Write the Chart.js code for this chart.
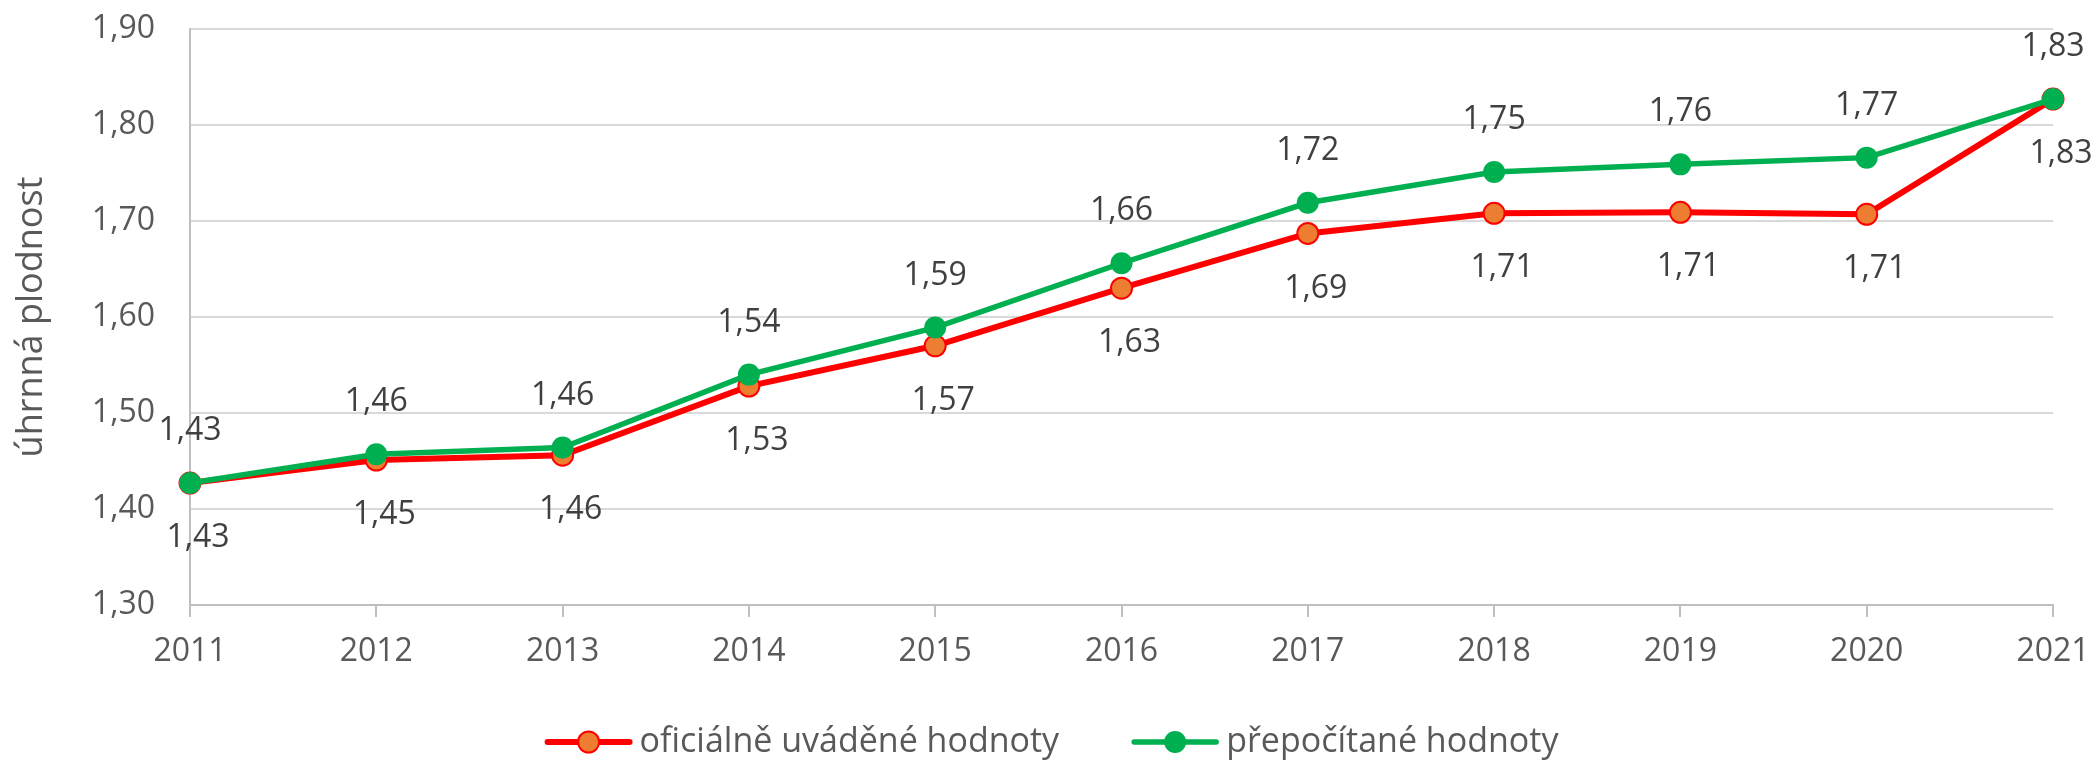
<!DOCTYPE html>
<html>
<head>
<meta charset="utf-8">
<script src="https://cdn.jsdelivr.net/npm/chart.js@4.4.1/dist/chart.umd.min.js"></script>
<style>
  html, body { margin: 0; padding: 0; background: #ffffff; }
  #wrap { width: 2099px; height: 761px; position: relative; }
</style>
</head>
<body>
<div id="wrap"><canvas id="c" width="2099" height="761"></canvas></div>
<script>
// ---- data ----
const years = ['2011','2012','2013','2014','2015','2016','2017','2018','2019','2020','2021'];
const officialValues = [1.427, 1.451, 1.456, 1.528, 1.570, 1.630, 1.687, 1.708, 1.709, 1.707, 1.827];
const recalculatedValues = [1.427, 1.457, 1.464, 1.540, 1.589, 1.656, 1.719, 1.751, 1.759, 1.766, 1.827];
const seriesNames = ['oficiálně uváděné hodnoty', 'přepočítané hodnoty'];
const yAxisTitle = 'úhrnná plodnost';
const yMin = 1.30, yMax = 1.90, yStep = 0.10;

const FONT = '"Open Sans", "Noto Sans", sans-serif';
const fmt = v => Number(v).toFixed(2).replace('.', ',');

// value labels drawn at each point position taken from the chart's elements
const valueLabels = {
  id: 'valueLabels',
  afterDatasetsDraw(chart) {
    const ctx = chart.ctx;
    ctx.save();
    ctx.font = '32px ' + FONT;
    ctx.fillStyle = '#404040';
    ctx.textAlign = 'center';
    ctx.textBaseline = 'middle';
    chart.data.datasets.forEach((ds, i) => {
      const meta = chart.getDatasetMeta(i);
      meta.data.forEach((pt, j) => {
        ctx.fillText(fmt(ds.data[j]), pt.x + ds.labelDx, pt.y + ds.labelDy);
      });
    });
    ctx.restore();
  }
};

// legend: line + marker sample followed by text
const lineLegend = {
  id: 'lineLegend',
  afterDraw(chart) {
    const ctx = chart.ctx;
    ctx.save();
    ctx.font = '34px ' + FONT;
    const sampleLen = 88, gapText = 7, gapItem = 72;
    const items = chart.data.datasets.map(ds => ({ds, w: ctx.measureText(ds.label).width}));
    let total = 0;
    items.forEach((it, k) => { total += sampleLen + gapText + it.w + (k < items.length - 1 ? gapItem : 0); });
    let x = chart.width / 2 + 2 - total / 2;
    const y = 742;
    items.forEach(it => {
      const ds = it.ds;
      ctx.strokeStyle = ds.borderColor;
      ctx.lineWidth = ds.borderWidth;
      ctx.lineCap = 'round';
      ctx.beginPath(); ctx.moveTo(x + 3, y); ctx.lineTo(x + sampleLen - 3, y); ctx.stroke();
      ctx.beginPath();
      ctx.arc(x + sampleLen / 2, y, ds.pointRadius, 0, Math.PI * 2);
      ctx.fillStyle = ds.pointBackgroundColor; ctx.fill();
      if (ds.pointBorderWidth > 0) { ctx.lineWidth = ds.pointBorderWidth; ctx.strokeStyle = ds.pointBorderColor; ctx.stroke(); }
      ctx.fillStyle = '#595959';
      ctx.textAlign = 'left';
      ctx.textBaseline = 'middle';
      ctx.fillText(ds.label, x + sampleLen + gapText, y);
      x += sampleLen + gapText + it.w + gapItem;
    });
    ctx.restore();
  }
};

new Chart(document.getElementById('c'), {
  type: 'line',
  data: {
    labels: years,
    datasets: [
      {
        label: seriesNames[0],
        data: officialValues,
        borderColor: '#FF0000',
        borderWidth: 6,
        pointRadius: 10.5,
        pointHoverRadius: 10.5,
        pointBackgroundColor: '#ED7D31',
        pointBorderColor: '#FF0000',
        pointBorderWidth: 2,
        tension: 0,
        clip: false,
        order: 2,
        labelDx: 8,
        labelDy: 55
      },
      {
        label: seriesNames[1],
        data: recalculatedValues,
        borderColor: '#00B050',
        borderWidth: 5.5,
        pointRadius: 11,
        pointHoverRadius: 11,
        pointBackgroundColor: '#00B050',
        pointBorderColor: '#00B050',
        pointBorderWidth: 0,
        tension: 0,
        clip: false,
        order: 1,
        labelDx: 0,
        labelDy: -52
      }
    ]
  },
  options: {
    responsive: false,
    animation: false,
    devicePixelRatio: 1,
    layout: { padding: { left: 0, right: 46, top: 29, bottom: 96 } },
    plugins: {
      legend: { display: false },
      tooltip: { enabled: false }
    },
    scales: {
      x: {
        type: 'category',
        offset: false,
        grid: { drawOnChartArea: false, drawTicks: true, tickLength: 12, color: '#BFBFBF', lineWidth: 2 },
        border: { display: true, color: '#BFBFBF', width: 2 },
        ticks: { font: { family: FONT, size: 32 }, color: '#595959', padding: 16, maxRotation: 0, autoSkip: false },
        afterFit: s => { s.height = 60; s.paddingLeft = 0; s.paddingRight = 0; }
      },
      y: {
        min: yMin, max: yMax,
        grid: { color: '#D9D9D9', lineWidth: 2, drawTicks: false },
        border: { display: true, color: '#BFBFBF', width: 2 },
        ticks: { stepSize: yStep, font: { family: FONT, size: 32 }, color: '#595959', padding: 35, callback: v => fmt(v) },
        title: { display: true, text: yAxisTitle, font: { family: FONT, size: 36 }, color: '#595959', padding: { top: 10, bottom: 0 } },
        afterFit: s => { s.width = 190; s.paddingTop = 0; s.paddingBottom = 0; }
      }
    }
  },
  plugins: [valueLabels, lineLegend]
});
</script>
</body>
</html>
